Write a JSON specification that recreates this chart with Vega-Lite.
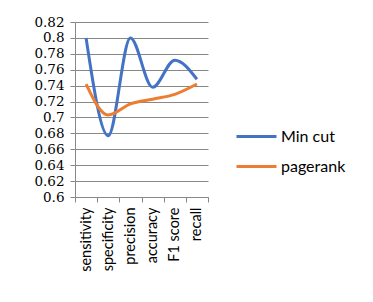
{
  "$schema": "https://vega.github.io/schema/vega-lite/v6.json",
  "width": 133,
  "height": 175,
  "autosize": "none",
  "padding": {"left": 75, "top": 22, "right": 165, "bottom": 105},
  "background": "white",
  "data": {
    "values": [
      {"metric": "sensitivity", "series": "Min cut", "value": 0.800},
      {"metric": "specificity", "series": "Min cut", "value": 0.677},
      {"metric": "precision", "series": "Min cut", "value": 0.800},
      {"metric": "accuracy", "series": "Min cut", "value": 0.738},
      {"metric": "F1 score", "series": "Min cut", "value": 0.772},
      {"metric": "recall", "series": "Min cut", "value": 0.748},
      {"metric": "sensitivity", "series": "pagerank", "value": 0.742},
      {"metric": "specificity", "series": "pagerank", "value": 0.703},
      {"metric": "precision", "series": "pagerank", "value": 0.717},
      {"metric": "accuracy", "series": "pagerank", "value": 0.723},
      {"metric": "F1 score", "series": "pagerank", "value": 0.729},
      {"metric": "recall", "series": "pagerank", "value": 0.742}
    ]
  },
  "mark": {"type": "line", "interpolate": "monotone", "strokeWidth": 3},
  "encoding": {
    "x": {
      "field": "metric",
      "type": "nominal",
      "sort": null,
      "scale": {"type": "band", "paddingInner": 0, "paddingOuter": 0},
      "axis": {
        "title": null,
        "labelAngle": -90,
        "labelAlign": "right",
        "labelBaseline": "middle",
        "labelFont": "Lato",
        "labelFontSize": 14.5,
        "labelColor": "black",
        "labelPadding": 5,
        "tickBand": "extent",
        "tickSize": 5,
        "tickColor": "#888888",
        "domainColor": "#888888",
        "grid": false
      }
    },
    "y": {
      "field": "value",
      "type": "quantitative",
      "scale": {"domain": [0.6, 0.82], "nice": false, "zero": false},
      "axis": {
        "title": null,
        "values": [0.6, 0.62, 0.64, 0.66, 0.68, 0.7, 0.72, 0.74, 0.76, 0.78, 0.8, 0.82],
        "labelExpr": "format(datum.value, '~g')",
        "labelFont": "DejaVu Serif",
        "labelFontSize": 13.5,
        "labelColor": "black",
        "labelPadding": 6,
        "tickSize": 5,
        "tickColor": "#888888",
        "domainColor": "#888888",
        "gridColor": "#888888",
        "gridWidth": 1
      }
    },
    "color": {
      "field": "series",
      "type": "nominal",
      "scale": {"domain": ["Min cut", "pagerank"], "range": ["#4472C4", "#ED7D31"]},
      "legend": {
        "title": null,
        "orient": "none",
        "legendX": 160,
        "legendY": 93,
        "symbolType": "stroke",
        "symbolSize": 1600,
        "symbolStrokeWidth": 3,
        "labelFont": "Lato",
        "labelFontSize": 16,
        "labelOffset": 3,
        "labelColor": "black",
        "rowPadding": -7
      }
    }
  },
  "config": {"view": {"stroke": null}}
}
